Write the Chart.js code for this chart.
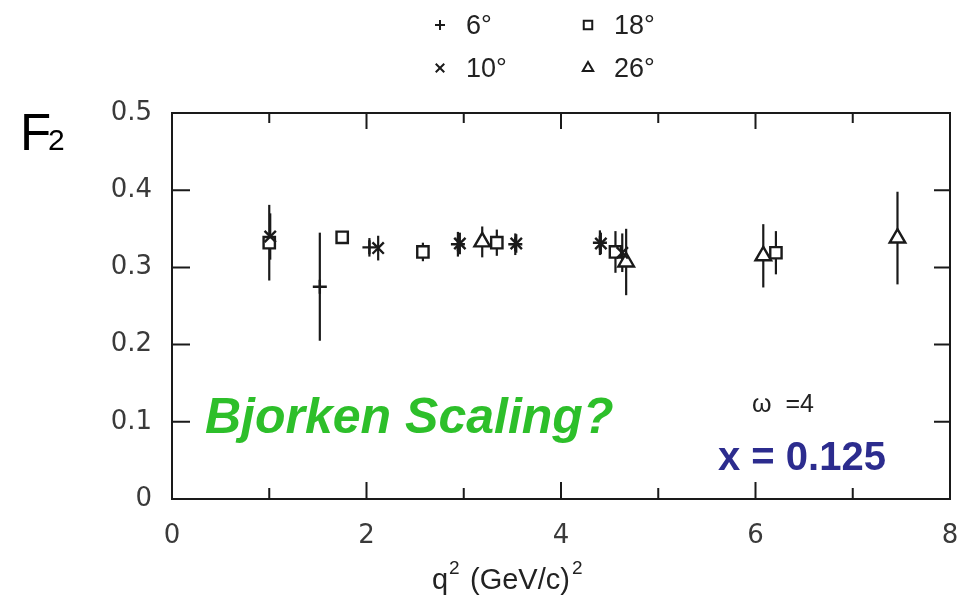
<!DOCTYPE html>
<html>
<head>
<meta charset="utf-8">
<script src="https://cdn.jsdelivr.net/npm/chart.js@4/dist/chart.umd.min.js"></script>
<style>
  html, body { margin: 0; padding: 0; background: #fff; }
</style>
</head>
<body>
<canvas id="f2Chart" width="964" height="600"></canvas>
<script>
// scattering angle series: q^2 (GeV/c)^2, F2 and its error
const q2_6 = [1.52, 2.03, 2.94, 3.53, 4.40];
const f2_6 = [0.275, 0.326, 0.330, 0.330, 0.332];
const err_6 = [0.070, 0.012, 0.016, 0.014, 0.016];

const q2_10 = [1.01, 2.12, 2.96, 3.54, 4.41, 4.63];
const f2_10 = [0.340, 0.325, 0.331, 0.331, 0.331, 0.319];
const err_10 = [0.030, 0.016, 0.014, 0.012, 0.014, 0.025];

const q2_18 = [1.00, 1.75, 2.58, 3.34, 4.56, 6.21];
const f2_18 = [0.332, 0.339, 0.320, 0.332, 0.320, 0.319];
const err_18 = [0.049, 0.008, 0.012, 0.017, 0.027, 0.028];

const q2_26 = [3.19, 4.67, 6.08, 7.46];
const f2_26 = [0.333, 0.307, 0.315, 0.338];
const err_26 = [0.020, 0.043, 0.041, 0.060];

const seriesLabels = ['6°', '10°', '18°', '26°'];
const xMajorTicks = [2, 4, 6];
const xMinorTicks = [1, 3, 5, 7];
const yTicks = [0.1, 0.2, 0.3, 0.4];

const toPoints = (xs, ys) => xs.map((x, i) => ({ x: x, y: ys[i] }));
const errors = [err_6, err_10, err_18, err_26];

const ink = '#1a1a1a';
const labelFont = 'Liberation Sans, Arial, sans-serif';
const tickFont = 'DejaVu Sans, sans-serif';

// error bars under the markers
const errorBars = {
  id: 'errorBars',
  beforeDatasetsDraw(chart) {
    const { ctx, scales: { x, y } } = chart;
    ctx.save();
    ctx.strokeStyle = ink;
    ctx.lineWidth = 2.2;
    chart.data.datasets.forEach((ds, d) => {
      ds.data.forEach((p, i) => {
        const e = errors[d][i];
        const px = x.getPixelForValue(p.x);
        ctx.beginPath();
        ctx.moveTo(px, y.getPixelForValue(p.y - e));
        ctx.lineTo(px, y.getPixelForValue(p.y + e));
        ctx.stroke();
      });
    });
    ctx.restore();
  }
};

// box, inward ticks, legend and notes
const decorations = {
  id: 'decorations',
  afterDraw(chart) {
    const { ctx, chartArea: a, scales: { x, y } } = chart;
    ctx.save();
    ctx.strokeStyle = ink;
    ctx.lineWidth = 2;
    ctx.strokeRect(a.left, a.top, a.right - a.left, a.bottom - a.top);

    ctx.beginPath();
    yTicks.forEach(v => {
      const py = y.getPixelForValue(v);
      ctx.moveTo(a.left, py); ctx.lineTo(a.left + 18, py);
      ctx.moveTo(a.right, py); ctx.lineTo(a.right - 16, py);
    });
    xMajorTicks.forEach(v => {
      const px = x.getPixelForValue(v);
      ctx.moveTo(px, a.bottom); ctx.lineTo(px, a.bottom - 17);
      ctx.moveTo(px, a.top); ctx.lineTo(px, a.top + 16);
    });
    xMinorTicks.forEach(v => {
      const px = x.getPixelForValue(v);
      ctx.moveTo(px, a.bottom); ctx.lineTo(px, a.bottom - 11);
      ctx.moveTo(px, a.top); ctx.lineTo(px, a.top + 10);
    });
    ctx.stroke();

    // legend, 2 x 2
    const spots = [[440, 25], [440, 68], [588, 25], [588, 68]];
    chart.data.datasets.forEach((ds, d) => {
      const [lx, ly] = spots[d];
      ctx.strokeStyle = ink;
      ctx.fillStyle = '#fff';
      ctx.lineWidth = 2;
      Chart.helpers.drawPoint(ctx, {
        pointStyle: ds.pointStyle, radius: ds.legendRadius, borderWidth: 2.4, rotation: 0
      }, lx, ly);
      ctx.fillStyle = '#222';
      ctx.font = '27px ' + labelFont;
      ctx.textAlign = 'left';
      ctx.textBaseline = 'middle';
      ctx.fillText(ds.label, lx + 26, ly + 2);
    });

    ctx.textBaseline = 'alphabetic';
    ctx.fillStyle = '#000';
    ctx.font = '51px ' + labelFont;
    ctx.fillText('F', 20, 150);
    ctx.font = '30px ' + labelFont;
    ctx.fillText('2', 48, 150);

    // axis title q^2 (GeV/c)^2
    ctx.fillStyle = '#222';
    ctx.font = '29px ' + labelFont;
    ctx.fillText('q', 432, 589);
    ctx.fillText('(GeV/c)', 470, 589);
    ctx.font = '19px ' + labelFont;
    ctx.fillText('2', 449, 574);
    ctx.fillText('2', 572, 574);

    ctx.fillStyle = '#2dbf2a';
    ctx.font = 'italic bold 50px ' + labelFont;
    ctx.fillText('Bjorken Scaling?', 205, 433);

    ctx.fillStyle = '#222';
    ctx.font = '25px ' + labelFont;
    ctx.fillText('ω  =4', 752, 412);

    ctx.fillStyle = '#2c2c8e';
    ctx.font = 'bold 40px ' + labelFont;
    ctx.fillText('x = 0.125', 718, 470);
    ctx.restore();
  }
};

const ctx = document.getElementById('f2Chart').getContext('2d');
new Chart(ctx, {
  type: 'scatter',
  data: {
    datasets: [
      { label: seriesLabels[0], data: toPoints(q2_6, f2_6), pointStyle: 'cross', pointRadius: 7, legendRadius: 5 },
      { label: seriesLabels[1], data: toPoints(q2_10, f2_10), pointStyle: 'crossRot', pointRadius: 8, legendRadius: 6 },
      { label: seriesLabels[2], data: toPoints(q2_18, f2_18), pointStyle: 'rect', pointRadius: 8, legendRadius: 6 },
      { label: seriesLabels[3], data: toPoints(q2_26, f2_26), pointStyle: 'triangle', pointRadius: 9, legendRadius: 6 }
    ].map(ds => Object.assign(ds, {
      borderColor: ink,
      backgroundColor: '#fff',
      pointBorderWidth: 2.4,
      pointHoverRadius: ds.pointRadius
    }))
  },
  options: {
    responsive: false,
    animation: false,
    devicePixelRatio: 1,
    layout: { padding: { top: 113, right: 14, left: 0, bottom: 0 } },
    plugins: { legend: { display: false }, tooltip: { enabled: false } },
    scales: {
      x: {
        type: 'linear',
        min: 0,
        max: 8,
        grid: { display: false, drawTicks: false },
        border: { display: false },
        ticks: { stepSize: 2, color: '#3a3a3a', padding: 22, font: { size: 26, family: tickFont } },
        afterFit: (scale) => { scale.height = 101; scale.paddingLeft = 0; scale.paddingRight = 0; }
      },
      y: {
        min: 0,
        max: 0.5,
        grid: { display: false, drawTicks: false },
        border: { display: false },
        ticks: { stepSize: 0.1, color: '#3a3a3a', padding: 20, font: { size: 26, family: tickFont } },
        afterFit: (scale) => { scale.width = 172; scale.paddingTop = 0; scale.paddingBottom = 0; }
      }
    }
  },
  plugins: [errorBars, decorations]
});
</script>
</body>
</html>
